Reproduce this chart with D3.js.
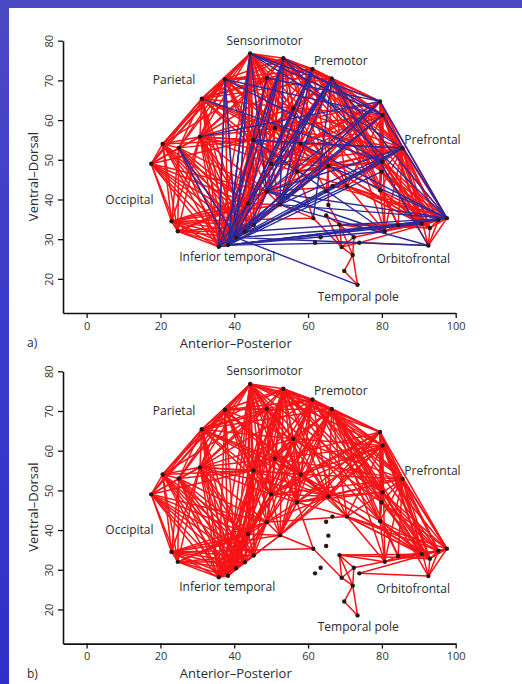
<!DOCTYPE html>
<html>
<head>
<meta charset="utf-8">
<script src="https://cdnjs.cloudflare.com/ajax/libs/d3/7.8.5/d3.min.js"></script>
<style>
body { margin: 0; background: #3c3cc6; }
svg { display: block; }
</style>
</head>
<body>
<div id="chart"></div>
<script>
const WIDTH = 522, HEIGHT = 684
const PANEL_OFFSET = 330.6 // panel b sits this far below panel a
const FONT = "'Open Sans', 'Noto Sans', sans-serif"

// node positions (anterior-posterior, ventral-dorsal)
const nodeX = [17.5, 20.6, 25, 23, 24.7, 30.7, 31.2, 35.8, 38.3, 40.5, 42.9, 45.3, 43.8, 48.8, 52.4, 37.5, 44.3, 53.3,
    61.2, 66.4, 79.5, 80.2, 85.6, 80.2, 79.9, 79.5, 65.5, 70.5, 66.6, 64.9, 65.5, 64.9, 61.4, 68.5, 80.8, 84.4,
    90.8, 93, 95.3, 97.6, 92.6, 73.9, 72.4, 69.1, 72.1, 69.8, 73.4, 61.9, 63.4, 45.2, 48.8, 56, 58, 51, 57, 50]
const nodeY = [49, 54, 53, 34.5, 32, 55.8, 65.4, 28.1, 28.5, 30.4, 31.9, 33.6, 39, 42, 38.7, 70.3, 76.8, 75.6,
    72.9, 70.5, 64.7, 61.3, 52.9, 49.5, 47, 42.3, 48.5, 43.4, 43.4, 42.1, 38.6, 36, 35.3, 33.7, 32, 33.5,
    33.9, 32.8, 34.8, 35.3, 28.4, 29.1, 30.5, 28, 26, 22, 18.5, 29.1, 30.5, 55, 70.6, 63, 54, 58, 47, 49]

const regionNames = ["Sensorimotor", "Premotor", "Parietal", "Prefrontal", "Occipital",
    "Inferior temporal", "Orbitofrontal", "Temporal pole"]
const regionX = [48.2, 68.9, 23.7, 93.7, 11.6, 38.1, 88.5, 73.6]
const regionY = [80.1, 75, 70.1, 55, 40, 25.6, 25.1, 15.6]

const xTicks = [0, 20, 40, 60, 80, 100]
const yTicks = [20, 30, 40, 50, 60, 70, 80]

// structural links, drawn red in both panels
const structuralLinks = [
    [0, [1, 2, 3, 4, 5, 6, 7, 8, 9, 10, 11, 12, 13, 15, 16, 49]],
    [1, [2, 3, 4, 5, 6, 7, 8, 9, 10, 11, 12, 15, 16, 49, 50]],
    [2, [3, 4, 5, 6, 7, 8, 9, 10, 11, 12, 13, 15, 16, 49]],
    [3, [4, 5, 7, 8, 9, 10, 11, 12, 13, 14, 32]],
    [4, [5, 7, 8, 9, 10, 11, 12, 13]],
    [5, [6, 7, 8, 9, 10, 11, 12, 13, 15, 16, 17, 18, 26, 49, 50, 51, 52, 53, 55]],
    [6, [7, 8, 9, 10, 15, 16, 17, 18, 19, 26, 49, 50, 51, 52, 53, 55]],
    [7, [8, 9, 10, 11, 12, 13, 15, 16, 17, 49, 50, 53, 55]],
    [8, [9, 10, 11, 12, 15, 16, 17, 18, 49, 50, 53, 55]],
    [9, [10, 11, 12, 13, 15, 16, 17, 49, 50]],
    [10, [11, 12, 13, 14, 16, 49]],
    [11, [12, 13, 14, 16, 17, 49]],
    [12, [13, 14, 17, 18, 19, 49, 55]],
    [13, [14, 18, 19, 26, 27, 52, 54, 55]],
    [14, [15, 17, 18, 19, 20, 21, 26, 32, 52, 54]],
    [15, [13, 16, 17, 18, 19, 26, 49, 50, 51, 52, 53, 55]],
    [16, [12, 13, 14, 17, 18, 19, 20, 21, 23, 25, 26, 49, 50, 51, 52, 53, 54, 55]],
    [17, [13, 18, 19, 20, 21, 22, 23, 24, 25, 26, 27, 49, 50, 51, 52, 53, 54, 55]],
    [18, [19, 20, 21, 22, 23, 24, 25, 26, 49, 50, 51, 52, 53, 54, 55]],
    [19, [20, 21, 22, 23, 24, 25, 26, 27, 34, 35, 36, 37, 38, 39, 40, 49, 51, 52, 53, 54, 55]],
    [20, [21, 22, 23, 24, 25, 26, 36, 37, 38, 39, 52, 53, 54, 55]],
    [21, [22, 23, 24, 25, 26, 27, 34, 36, 37, 38, 39, 51, 52, 53, 54, 55]],
    [22, [23, 24, 25, 26, 34, 35, 36, 37, 38, 39, 40, 51, 52, 53, 54, 55]],
    [23, [24, 25, 26, 27, 36, 37, 38, 39, 51, 54]],
    [24, [25, 36, 37, 38, 39, 51]],
    [25, [34, 35, 36, 37, 38, 52]],
    [26, [27, 36, 37, 49, 51, 52, 53, 54, 55]],
    [27, [34, 36, 37, 38, 39, 52, 54]],
    [32, [43]],
    [33, [34, 36, 37, 42, 43, 44]],
    [34, [35, 36]],
    [35, [36, 37, 38]],
    [36, [37, 38, 39]],
    [37, [38, 39, 40]],
    [38, [39, 40]],
    [39, [40, 41, 42]],
    [40, [41]],
    [42, [43, 44]],
    [43, [44]],
    [44, [45, 46]],
    [45, [46]],
    [49, [50, 51, 52, 53, 54, 55]],
    [50, [51, 52, 53, 55]],
    [51, [52, 53, 54, 55]],
    [52, [53, 54, 55]],
    [53, [54, 55]],
    [54, [14, 32, 55]]
]
// extra red links seen only in panel a
const extraRedLinksA = [
    [23, [28]], [28, [39, 29]], [29, [52, 26]], [30, [33, 26]], [31, [43, 33]], [41, [43]], [42, [33]]
]
// blue links, panel a only
const blueLinksA = [
    [8, [16, 17, 18, 19, 20, 21, 22, 23, 24, 26, 34, 36, 38, 39, 50, 51]],
    [7, [17, 19, 21, 26, 39]],
    [9, [18, 20, 22, 27, 36, 40, 46]],
    [10, [19, 26, 39]],
    [39, [13, 14, 17, 19, 20, 21, 26, 52]],
    [40, [14, 19]],
    [19, [12, 13, 14, 32]],
    [20, [5, 13, 16, 50]],
    [21, [15, 16, 17]],
    [22, [13, 14, 16, 49]],
    [23, [6, 15]],
    [2, [8, 9]],
    [15, [7, 9]],
    [16, [8, 9, 13]],
    [17, [12, 14]],
    [18, [13, 14]],
    [34, [13, 49]],
    [41, [8]]
]

const Flatten = lists => lists.flatMap(([s, ts]) => ts.map(t => [s, t]))

const svg = d3.select("#chart")
    .append("svg")
    .attr("width", WIDTH)
    .attr("height", HEIGHT)

const defs = svg.append("defs")
const grad = defs.append("linearGradient")
    .attr("id", "slide-bg")
    .attr("x1", 0).attr("y1", 0).attr("x2", 0).attr("y2", 1)
grad.append("stop").attr("offset", "0%").attr("stop-color", "#4a4ac4")
grad.append("stop").attr("offset", "50%").attr("stop-color", "#3a3acb")
grad.append("stop").attr("offset", "100%").attr("stop-color", "#3030c8")

svg.append("rect").attr("width", WIDTH).attr("height", HEIGHT).attr("fill", "url(#slide-bg)")
svg.append("rect")
    .attr("x", 9).attr("y", 8)
    .attr("width", WIDTH - 9).attr("height", HEIGHT - 8)
    .attr("fill", "#ffffff")

const x = d3.scaleLinear().domain([-6.4, 100]).range([63, 455.7])
const y = d3.scaleLinear().domain([11.4, 80]).range([313, 40.7])

function DrawLinks(g, links, color, width) {
    g.append("g")
        .selectAll("line")
        .data(Flatten(links))
        .join("line")
        .attr("x1", d => x(nodeX[d[0]]))
        .attr("y1", d => y(nodeY[d[0]]))
        .attr("x2", d => x(nodeX[d[1]]))
        .attr("y2", d => y(nodeY[d[1]]))
        .attr("stroke", color)
        .attr("stroke-width", width)
}

function DrawPanel(offset, redLinks, blueLinks, letter) {
    const g = svg.append("g").attr("transform", `translate(0,${offset})`)

    DrawLinks(g, redLinks, "#f81216", 1.5)
    DrawLinks(g, blueLinks, "#2b2a9c", 1.4)

    g.append("g")
        .selectAll("circle")
        .data(nodeX)
        .join("circle")
        .attr("cx", d => x(d))
        .attr("cy", (d, i) => y(nodeY[i]))
        .attr("r", 2.2)
        .attr("fill", "#2a1616")

    g.append("g")
        .selectAll("text")
        .data(regionNames)
        .join("text")
        .attr("x", (d, i) => x(regionX[i]))
        .attr("y", (d, i) => y(regionY[i]))
        .attr("dy", "0.35em")
        .attr("text-anchor", "middle")
        .attr("font-family", FONT)
        .attr("font-size", 12)
        .attr("fill", "#2b2b2b")
        .text(d => d)

    const yAxis = g.append("g")
        .attr("transform", `translate(${x.range()[0]},0)`)
        .call(d3.axisLeft(y).tickValues(yTicks).tickSize(5).tickSizeOuter(0))
    yAxis.selectAll(".tick text")
        .attr("x", 0).attr("dy", null)
        .attr("text-anchor", "middle")
        .attr("transform", "translate(-10,0) rotate(-90)")

    const xAxis = g.append("g")
        .attr("transform", `translate(0,${y.range()[0]})`)
        .call(d3.axisBottom(x).tickValues(xTicks).tickSize(5).tickSizeOuter(0).tickPadding(4))

    for (const axis of [xAxis, yAxis]) {
        axis.attr("font-family", FONT).attr("font-size", 11)
        axis.select(".domain").attr("stroke", "#111").attr("stroke-width", 1.6)
        axis.selectAll(".tick line").attr("stroke", "#111").attr("stroke-width", 1.3)
        axis.selectAll(".tick text").attr("fill", "#333")
    }

    g.append("text")
        .attr("transform", "translate(33.5,176.5) rotate(-90)")
        .attr("dy", "0.35em")
        .attr("text-anchor", "middle")
        .attr("font-family", FONT)
        .attr("font-size", 13)
        .attr("fill", "#2b2b2b")
        .text("Ventral–Dorsal")

    g.append("text")
        .attr("x", 235.8).attr("y", 343)
        .attr("dy", "0.35em")
        .attr("text-anchor", "middle")
        .attr("font-family", FONT)
        .attr("font-size", 13)
        .attr("fill", "#2b2b2b")
        .text("Anterior–Posterior")

    g.append("text")
        .attr("x", 27).attr("y", 343)
        .attr("dy", "0.35em")
        .attr("font-family", FONT)
        .attr("font-size", 12)
        .attr("fill", "#2b2b2b")
        .text(letter)
}

DrawPanel(0, structuralLinks.concat(extraRedLinksA), blueLinksA, "a)")
DrawPanel(PANEL_OFFSET, structuralLinks, [], "b)")
</script>
</body>
</html>
